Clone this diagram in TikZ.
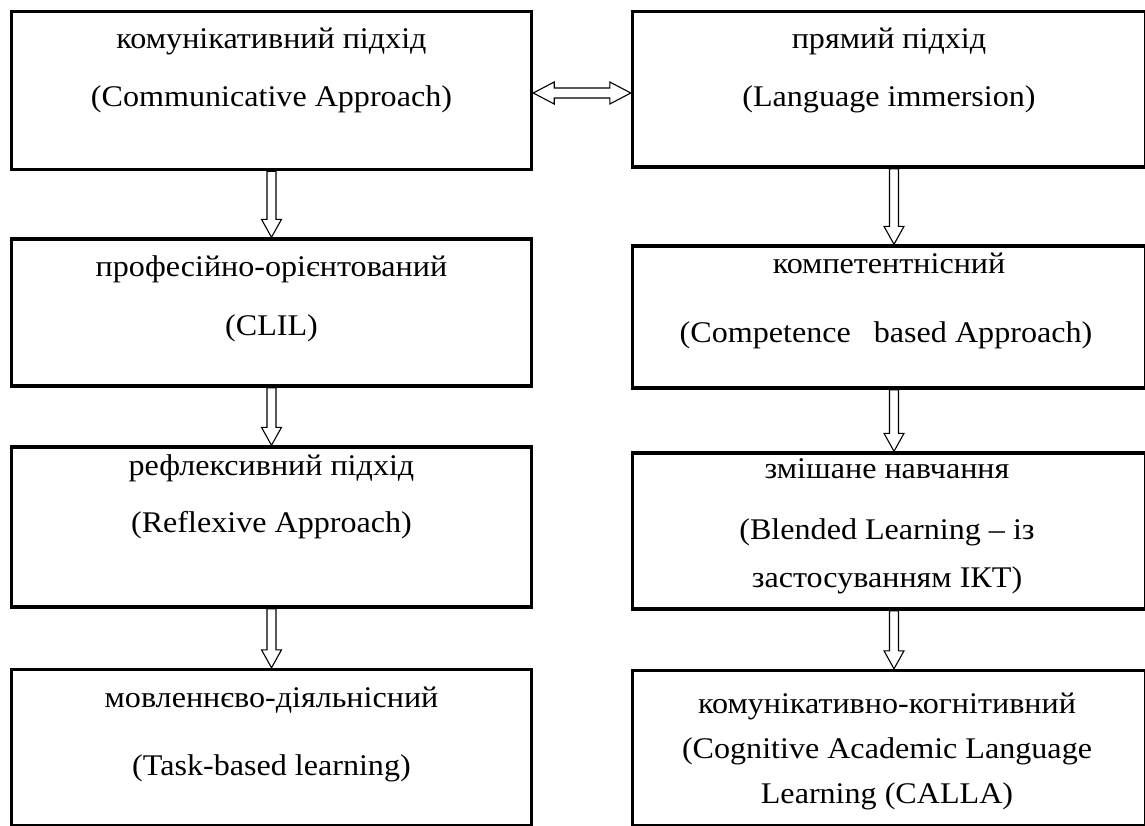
\documentclass[tikz,border=0pt]{standalone}
\usepackage{fontspec}
\setmainfont[FakeStretch=1.07]{Liberation Serif}
\usetikzlibrary{calc}
\newcommand\vdarrow[3]{%
  \path[arr] let \p1=(#1.south), \p2=(#2.north) in
    ({\x1+#3pt-4.5pt},\y1) -- ({\x1+#3pt-4.5pt},{\y2+18pt}) -- ({\x1+#3pt-10pt},{\y2+18pt})
    -- ({\x1+#3pt},\y2) -- ({\x1+#3pt+10pt},{\y2+18pt}) -- ({\x1+#3pt+4.5pt},{\y2+18pt})
    -- ({\x1+#3pt+4.5pt},\y1) -- cycle;}
\begin{document}
\begin{tikzpicture}[x=1pt,y=1pt,
  box/.style={draw, line width=3.4pt, inner sep=0pt},
  lbl/.style={anchor=base, font=\fontsize{30}{36}\selectfont, inner sep=0pt},
  arr/.style={draw, line width=1.1pt, fill=white, line join=miter}]
\useasboundingbox (0pt,0pt) rectangle (1145pt,-825pt);
\clip (0pt,0pt) rectangle (1145pt,-825pt);
% left column
\node[box, minimum width=520pt, minimum height=158pt] (L1) at (271.5pt,-90.5pt) {};
\node[box, minimum width=520pt, minimum height=147pt] (L2) at (271.5pt,-312.5pt) {};
\node[box, minimum width=520pt, minimum height=160pt] (L3) at (271.5pt,-527pt) {};
\node[box, minimum width=520pt, minimum height=156pt] (L4) at (271.5pt,-747.5pt) {};
% right column
\node[box, minimum width=513pt, minimum height=155.5pt] (R1) at (889pt,-89.25pt) {};
\node[box, minimum width=513pt, minimum height=142pt] (R2) at (889pt,-317pt) {};
\node[box, minimum width=513pt, minimum height=156pt] (R3) at (889pt,-531pt) {};
\node[box, minimum width=513pt, minimum height=155pt] (R4) at (889pt,-748pt) {};
% texts
\node[lbl] (L1a) at (271.5pt,-48pt) {комунікативний підхід};
\node[lbl] (L1b) at (271.5pt,-106pt) {(Communicative Approach)};
\node[lbl] (L2a) at (271.5pt,-276pt) {професійно-орієнтований};
\node[lbl] (L2b) at (271.5pt,-335pt) {(CLIL)};
\node[lbl] (L3a) at (271.5pt,-475pt) {рефлексивний підхід};
\node[lbl] (L3b) at (271.5pt,-532pt) {(Reflexive Approach)};
\node[lbl] (L4a) at (271.5pt,-707pt) {мовленнєво-діяльнісний};
\node[lbl] (L4b) at (271.5pt,-775pt) {(Task-based learning)};
\node[lbl] (R1a) at (889pt,-48pt) {прямий підхід};
\node[lbl] (R1b) at (889pt,-106pt) {(Language immersion)};
\node[lbl] (R2a) at (889pt,-273pt) {компетентнісний};
\node[lbl] (R2b) at (886pt,-342pt) {(Competence\hspace{0.5em} based Approach)};
\node[lbl] (R3a) at (887pt,-478pt) {змішане навчання};
\node[lbl] (R3b) at (887pt,-539pt) {(Blended Learning – із};
\node[lbl] (R3c) at (887pt,-587pt) {застосуванням ІКТ)};
\node[lbl] (R4a) at (887pt,-713pt) {комунікативно-когнітивний};
\node[lbl] (R4b) at (887pt,-758pt) {(Cognitive Academic Language};
\node[lbl] (R4c) at (887pt,-803pt) {Learning (CALLA)};
% arrows
\path[arr] let \p1=(L1.east), \p2=(R1.west) in
  (\x1,-93pt) -- ({\x1+21pt},-82pt) -- ({\x1+21pt},-88pt) -- ({\x2-21pt},-88pt)
  -- ({\x2-21pt},-82pt) -- (\x2,-93pt) -- ({\x2-21pt},-104pt) -- ({\x2-21pt},-98pt)
  -- ({\x1+21pt},-98pt) -- ({\x1+21pt},-104pt) -- cycle;
\vdarrow{L1}{L2}{0}
\vdarrow{L2}{L3}{0}
\vdarrow{L3}{L4}{0}
\vdarrow{R1}{R2}{5}
\vdarrow{R2}{R3}{5}
\vdarrow{R3}{R4}{5}
\end{tikzpicture}
\end{document}
